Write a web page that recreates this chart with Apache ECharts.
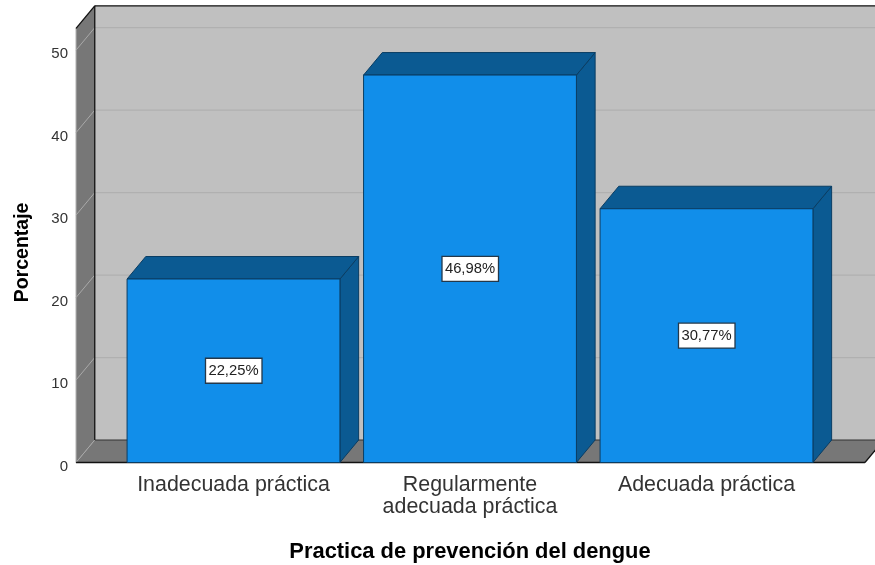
<!DOCTYPE html>
<html>
<head>
<meta charset="utf-8">
<style>html,body{margin:0;padding:0;background:#fff}#c{width:875px;height:565px}</style>
<script src="https://cdn.jsdelivr.net/npm/echarts@6/dist/echarts.min.js"></script>
</head>
<body>
<div id="c"></div>
<script>
var categories = ['Inadecuada práctica', 'Regularmente\nadecuada práctica', 'Adecuada práctica'];
var percents = [22.25, 46.98, 30.77];
var yTicks = [0, 10, 20, 30, 40, 50];
var yMax = 52.65;
var xTitle = 'Practica de prevención del dengue';
var yTitle = 'Porcentaje';

var DX = 18.7, DY = -22.5, WALL_LEFT = 39.2, WALL_RIGHT = 40.2, BAR_FRAC = 0.9;
var FONT = '"Liberation Sans", Arial, sans-serif';

function poly(points, fill, stroke, w) {
  return { type: 'polygon', shape: { points: points }, style: { fill: fill, stroke: stroke || 'none', lineWidth: w || 0 }, silent: true };
}
function line(a, b, stroke, w) {
  return { type: 'line', shape: { x1: a[0], y1: a[1], x2: b[0], y2: b[1] }, style: { stroke: stroke, lineWidth: w, fill: 'none' }, silent: true };
}
function renderWalls(params, api) {
  var band = api.size([1, 0])[0];
  var c0 = api.coord([0, 0]);
  var c2 = api.coord([categories.length - 1, 0]);
  var top = api.coord([0, yMax])[1];
  var L = c0[0] - band / 2 - WALL_LEFT, R = c2[0] + band / 2 + WALL_RIGHT, B = c0[1];
  var kids = [];
  kids.push(poly([[L + DX, top + DY], [R + DX, top + DY], [R + DX, B + DY], [L + DX, B + DY]], '#c0c0c0'));
  kids.push(poly([[L, top], [L + DX, top + DY], [L + DX, B + DY], [L, B]], '#777777'));
  kids.push(poly([[L, B], [L + DX, B + DY], [R + DX, B + DY], [R, B]], '#777777'));
  yTicks.forEach(function (t) {
    if (t === 0) return;
    var y = api.coord([0, t])[1];
    kids.push(line([L, y], [L + DX, y + DY], '#a9a9a9', 1));
    kids.push(line([L + DX, y + DY], [R + DX, y + DY], '#b0b0b0', 1.2));
  });
  kids.push(line([L, B], [L + DX, B + DY], '#a9a9a9', 1));
  kids.push(line([L, top], [L, B], '#a9a9a9', 1));
  kids.push(line([L, top], [L + DX, top + DY], '#111', 1.3));
  kids.push(line([L + DX, top + DY], [R + DX, top + DY], '#111', 1.3));
  kids.push(line([L + DX, top + DY], [L + DX, B + DY], '#111', 1.3));
  kids.push(line([L + DX, B + DY], [R + DX, B + DY], '#333', 1.2));
  kids.push(line([L, B], [R, B], '#111', 1.3));
  kids.push(line([R, B], [R + DX, B + DY], '#111', 1.3));
  return { type: 'group', children: kids, silent: true };
}
function renderBar(params, api) {
  var idx = api.value(0), val = api.value(1);
  var band = api.size([1, 0])[0];
  var w = band * BAR_FRAC;
  var p = api.coord([idx, val]), b = api.coord([idx, 0]), mid = api.coord([idx, val / 2]);
  var x0 = p[0] - w / 2, x1 = p[0] + w / 2, yt = p[1], yb = b[1];
  var edge = '#0a3d63';
  var label = val.toFixed(2).replace('.', ',') + '%';
  return { type: 'group', silent: true, children: [
    poly([[x1, yt], [x1 + DX, yt + DY], [x1 + DX, yb + DY], [x1, yb]], '#0b5a92', edge, 1),
    poly([[x0, yt], [x0 + DX, yt + DY], [x1 + DX, yt + DY], [x1, yt]], '#0b5a92', edge, 1),
    poly([[x0, yt], [x1, yt], [x1, yb], [x0, yb]], '#118eea', edge, 1),
    { type: 'rect', shape: { x: mid[0] - 28, y: mid[1] - 12.5, width: 56.5, height: 25 }, style: { fill: '#fff', stroke: '#24384a', lineWidth: 1.3 }, silent: true },
    { type: 'text', x: mid[0], y: mid[1] + 0.5, silent: true, style: { text: label, fill: '#222', font: '14.8px ' + FONT, align: 'center', verticalAlign: 'middle' } }
  ] };
}

var chart = echarts.init(document.getElementById('c'), null, { renderer: 'canvas' });
chart.setOption({
  animation: false,
  backgroundColor: '#fff',
  grid: { left: 115.25, width: 709.5, top: 28.3, height: 434.2, containLabel: false, outerBoundsMode: 'none' },
  xAxis: {
    type: 'category', data: categories,
    name: xTitle, nameLocation: 'middle', nameGap: 78.5,
    nameTextStyle: { fontFamily: FONT, fontSize: 21.9, fontWeight: 'bold', color: '#000' },
    axisLine: { show: false }, axisTick: { show: false },
    axisLabel: { fontFamily: FONT, fontSize: 21.4, color: '#333', margin: 11, lineHeight: 22.5, interval: 0 },
    z: 10
  },
  yAxis: {
    type: 'value', min: 0, max: yMax, interval: 10, offset: 39.2,
    name: yTitle, nameLocation: 'middle', nameGap: 43,
    nameTextStyle: { fontFamily: FONT, fontSize: 19.5, fontWeight: 'bold', color: '#000', padding: [0, 14, 0, 0] },
    axisLine: { show: false }, axisTick: { show: false }, splitLine: { show: false },
    axisLabel: { margin: 8, showMaxLabel: false, formatter: '{a|{value}}',
      rich: { a: { fontFamily: FONT, fontSize: 15, color: '#333', padding: [8, 0, 0, 0] } } }
  },
  series: [
    { type: 'custom', renderItem: renderWalls, data: [[0, 0]], encode: { x: 0, y: 1 }, clip: false, z: 1, silent: true },
    { type: 'custom', renderItem: renderBar, data: percents.map(function (v, i) { return [i, v]; }), encode: { x: 0, y: 1 }, clip: false, z: 2, silent: true }
  ]
});
</script>
</body>
</html>
